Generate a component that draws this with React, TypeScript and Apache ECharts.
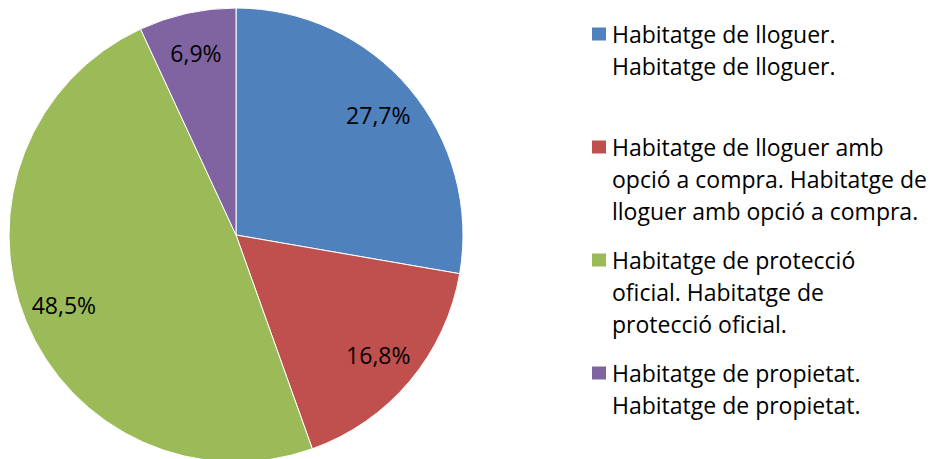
import React, { useEffect, useRef } from "react";
import * as echarts from "echarts";

const categories = [
  "Habitatge de lloguer. Habitatge de lloguer.",
  "Habitatge de lloguer amb opció a compra. Habitatge de lloguer amb opció a compra.",
  "Habitatge de protecció oficial. Habitatge de protecció oficial.",
  "Habitatge de propietat. Habitatge de propietat.",
];
const values = [27.7, 16.8, 48.5, 6.9];
const valueLabels = ["27,7%", "16,8%", "48,5%", "6,9%"];
const legendLines = [
  ["Habitatge de lloguer.", "Habitatge de lloguer."],
  ["Habitatge de lloguer amb", "opció a compra. Habitatge de", "lloguer amb opció a compra."],
  ["Habitatge de protecció", "oficial. Habitatge de", "protecció oficial."],
  ["Habitatge de propietat.", "Habitatge de propietat."],
];
const colors = ["#4F81BD", "#C0504D", "#9BBB59", "#8064A2"];

const FONT = "'Open Sans', 'Noto Sans', sans-serif";

export default function App() {
  const ref = useRef<HTMLDivElement>(null);
  useEffect(() => {
    document.body.style.margin = "0";
    if (!ref.current) return;
    const chart = echarts.init(ref.current, null, { renderer: "svg" });
    const option = {
      animation: false,
      color: colors,
      legend: {
        orient: "vertical",
        left: 590,
        top: -46,
        height: 700,
        padding: 0,
        itemGap: -47,
        itemWidth: 16,
        itemHeight: 15,
        itemGap2: 0,
        icon: "rect",
        selectedMode: false,
        data: categories,
        textStyle: {
          fontFamily: FONT,
          fontSize: 23,
          color: "#000",
          lineHeight: 32,
        },
        formatter: (name: string) => {
          const idx = categories.indexOf(name);
          const lines = [...legendLines[idx]];
          while (lines.length < 3) lines.push("");
          return ["", "", ...lines].join("\n");
        },
      },
      series: [
        {
          type: "pie",
          center: [236, 235],
          radius: [0, 227],
          startAngle: 90,
          clockwise: true,
          silent: true,
          label: { show: false },
          labelLine: { show: false },
          itemStyle: { borderColor: "#ffffff", borderWidth: 1 },
          emphasis: { disabled: true },
          data: categories.map((name, i) => ({
            name,
            value: values[i],
            itemStyle: { color: colors[i] },
          })),
        },
        {
          type: "pie",
          center: [236, 235],
          radius: [139, 227],
          startAngle: 90,
          clockwise: true,
          silent: true,
          itemStyle: { color: "rgba(0,0,0,0)", borderWidth: 0 },
          emphasis: { disabled: true },
          labelLine: { show: false },
          label: {
            show: true,
            position: "inside",
            fontFamily: FONT,
            fontSize: 23,
            color: "#000",
            formatter: (p: any) => valueLabels[p.dataIndex],
          },
          data: categories.map((name, i) => ({
            name,
            value: values[i],
            label: i === 3 ? { padding: [0, 0, 20, 0] } : undefined,
          })),
        },
      ],
    };
    chart.setOption(option as any);
    return () => chart.dispose();
  }, []);
  return <div ref={ref} style={{ width: 933, height: 459 }} />;
}
